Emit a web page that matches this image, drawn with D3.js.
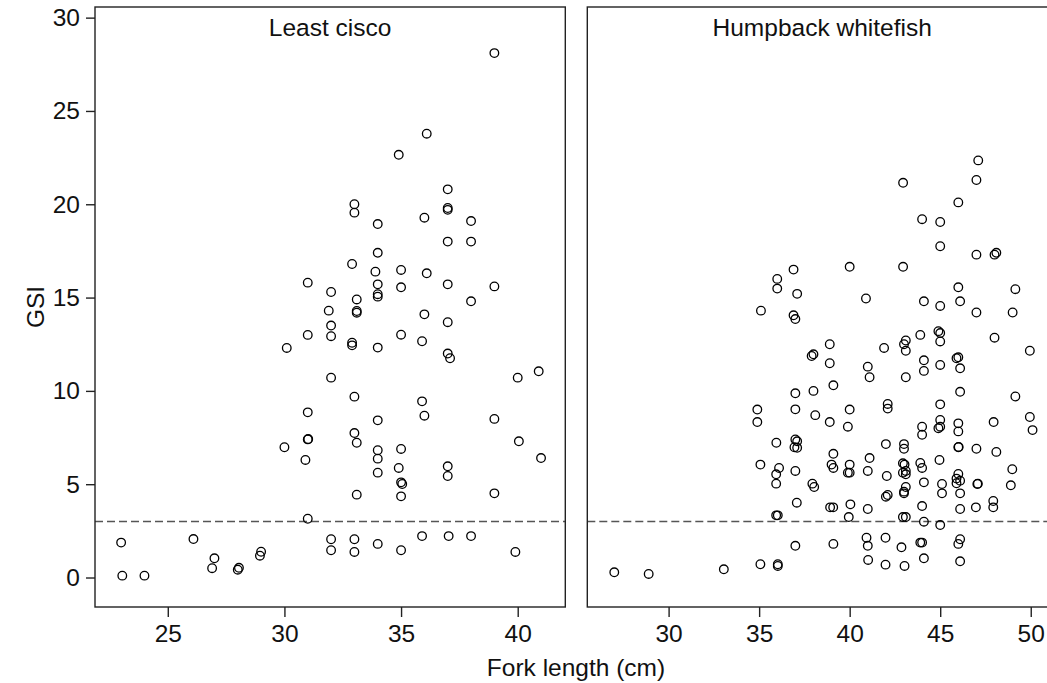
<!DOCTYPE html>
<html>
<head>
<meta charset="utf-8">
<script src="https://cdn.jsdelivr.net/npm/d3@7"></script>
<style>
  html, body { margin: 0; padding: 0; background: #fff; }
  svg { display: block; }
  text { font-family: "Liberation Sans", Arial, Helvetica, sans-serif; fill: #111; }
</style>
</head>
<body>
<svg id="chart" width="1047" height="683"></svg>
<script>
// Fork length (cm) and GSI for each fish
const leastCisco = [
  [23, 1.87], [23.05, 0.1], [24, 0.1], [26.1, 2.06], [27, 1.03], [26.9, 0.5],
  [28, 0.42], [28.05, 0.52], [28.95, 1.17], [29.0, 1.38],
  [30, 6.98], [30.1, 12.3], [31, 15.8], [31, 13.0], [31, 8.85], [31, 7.4], [31.02, 7.42],
  [30.9, 6.3], [31, 3.15],
  [32, 15.3], [31.9, 14.3], [32, 13.5], [32, 12.93], [32, 10.71], [32, 2.05], [32, 1.46],
  [33, 20.0], [33, 19.55], [32.9, 16.8], [33.1, 14.9], [33.1, 14.28], [33.1, 14.19],
  [32.9, 12.58], [32.9, 12.44], [33, 9.69], [33, 7.74], [33.1, 7.22], [33.1, 4.44],
  [33, 2.05], [33, 1.37],
  [34, 18.94], [34, 17.4], [33.9, 16.39], [34, 15.71], [34, 15.18], [34, 15.05],
  [34, 12.32], [34, 8.42], [34, 6.82], [34, 6.37], [34, 5.62], [34, 1.8],
  [34.9, 22.65], [35, 16.48], [35, 15.55], [35, 13.01], [35, 6.89], [34.9, 5.87],
  [35, 5.1], [35.05, 5.01], [35, 4.35], [35, 1.46],
  [36.1, 23.78], [36, 19.28], [36.1, 16.3], [36, 14.1], [35.9, 12.66], [35.9, 9.44],
  [36, 8.67], [35.9, 2.22],
  [37, 20.8], [37, 19.7], [37, 19.8], [37, 18.0], [37, 15.71], [37, 13.68], [37, 12.0],
  [37.1, 11.75], [37, 5.96], [37, 5.44], [37.04, 2.22],
  [38, 19.1], [38, 18.0], [38, 14.8], [38, 2.22],
  [39, 28.1], [39, 15.6], [39, 8.5], [39, 4.51],
  [40, 10.71], [40.05, 7.3], [39.9, 1.37],
  [40.9, 11.05], [41, 6.4]
];

const humpbackWhitefish = [
  [27, 0.28], [28.9, 0.19], [33.05, 0.44],
  [35.1, 14.3], [34.9, 9.0], [34.9, 8.33], [35.07, 6.05], [35.07, 0.71],
  [36, 16.0], [36, 15.48], [35.95, 7.22], [36.1, 5.87], [35.94, 5.53], [35.94, 5.03],
  [35.94, 3.33], [36.03, 3.33], [36.03, 0.71], [36.03, 0.62],
  [36.9, 16.5], [37.1, 15.2], [36.9, 14.05], [37, 13.85], [37, 9.87], [37, 9.01],
  [37, 7.4], [37.1, 7.3], [36.95, 6.98], [37.1, 6.95], [37, 5.71], [37.08, 4.01], [37, 1.7],
  [37.9, 11.87], [38, 11.96], [38, 10.0], [38.1, 8.7], [37.94, 5.03], [38.04, 4.85],
  [38.9, 12.5], [38.9, 11.48], [39.1, 10.3], [38.9, 8.33], [39.1, 6.63], [39, 6.05],
  [39.1, 5.87], [38.92, 3.76], [39.09, 3.76], [39.1, 1.8],
  [40, 16.65], [40, 9.0], [39.9, 8.08], [40, 6.05], [39.9, 5.62], [40, 5.62],
  [40.04, 3.92], [39.95, 3.24],
  [40.9, 14.95], [41, 11.3], [41.1, 10.73], [41.1, 6.4], [41, 5.71], [41, 3.67],
  [40.93, 2.13], [41, 1.7], [41.02, 0.94],
  [41.9, 12.3], [42.1, 9.3], [42.1, 9.05], [42, 7.15], [42.05, 5.44], [42, 4.33],
  [42.1, 4.42], [41.98, 2.13], [41.98, 0.69],
  [42.95, 21.15], [42.95, 16.65], [43, 12.5], [43.1, 12.7], [43.1, 12.15], [43.1, 10.73],
  [43, 7.15], [43, 6.9], [42.94, 6.12], [43.03, 6.05], [42.94, 5.62], [43.1, 5.71],
  [43.1, 5.53], [43.1, 4.85], [43, 4.6], [43, 4.51], [42.94, 3.24], [43.1, 3.24],
  [42.86, 1.62], [43.03, 0.62],
  [44, 19.2], [44.1, 14.8], [43.9, 13.0], [44.1, 11.64], [44.1, 11.07], [44, 8.08],
  [44, 7.65], [43.9, 6.14], [44, 5.87], [44.1, 5.1], [44, 3.83], [44.1, 2.99],
  [43.9, 1.87], [44, 1.87], [44.1, 1.03],
  [45, 19.05], [45, 17.75], [45, 14.55], [44.9, 13.2], [45, 13.1], [45, 12.65],
  [45, 11.39], [45, 9.28], [45, 8.44], [44.9, 8.0], [45, 8.08], [44.96, 6.3],
  [45.1, 5.01], [45.1, 4.51], [45, 2.81],
  [46, 20.1], [46, 15.55], [46.1, 14.8], [46, 11.8], [45.9, 11.75], [46.1, 11.21],
  [46.1, 9.95], [46, 8.26], [46, 7.83], [46, 6.98], [46.02, 7.0], [46, 5.55], [45.9, 5.3],
  [46.1, 5.19], [45.9, 5.05], [46.1, 4.51], [46.1, 3.67], [46.1, 2.05], [46, 1.8], [46.1, 0.87],
  [47.1, 22.35], [47, 21.3], [47, 17.3], [47, 14.2], [47, 6.9], [47.05, 5.01],
  [47.08, 5.03], [46.97, 3.76],
  [48, 17.3], [48.1, 17.4], [48, 12.85], [47.95, 8.33], [48.1, 6.73], [47.93, 4.1], [47.93, 3.76],
  [49.15, 15.45], [49, 14.2], [49.15, 9.7], [48.98, 5.8], [48.9, 4.94],
  [49.95, 12.15], [49.95, 8.6], [50.1, 7.9]
];

const panelTitles = ["Least cisco", "Humpback whitefish"];
const xTicksLeft = [25, 30, 35, 40];
const xTicksRight = [30, 35, 40, 45, 50];
const yTicks = [0, 5, 10, 15, 20, 25, 30];
const gsiThreshold = 3;
const xLabel = "Fork length (cm)";
const yLabel = "GSI";

const svg = d3.select("#chart");
const FONT = 24.5;
const plotTop = 7, plotBottom = 607;

const y = d3.scaleLinear().domain([-1.58, 30.57]).range([plotBottom, plotTop]);

const panels = [
  { title: panelTitles[0], data: leastCisco, ticks: xTicksLeft,
    x: d3.scaleLinear().domain([21.88, 42.04]).range([95, 565.3]), yAxis: true },
  { title: panelTitles[1], data: humpbackWhitefish, ticks: xTicksRight,
    x: d3.scaleLinear().domain([25.51, 51.45]).range([587.3, 1057]), yAxis: false }
];

panels.forEach(p => {
  const [x0, x1] = p.x.range();
  const g = svg.append("g");

  // threshold line
  g.append("line")
    .attr("x1", x0).attr("x2", x1)
    .attr("y1", y(gsiThreshold)).attr("y2", y(gsiThreshold))
    .attr("stroke", "#555").attr("stroke-width", 1.5)
    .attr("stroke-dasharray", "8,4");

  // points
  g.selectAll("circle").data(p.data).enter().append("circle")
    .attr("cx", d => p.x(d[0]))
    .attr("cy", d => y(d[1]))
    .attr("r", 4.3)
    .attr("fill", "none")
    .attr("stroke", "#000")
    .attr("stroke-width", 1.3);

  // frame
  g.append("rect")
    .attr("x", x0).attr("y", plotTop)
    .attr("width", x1 - x0).attr("height", plotBottom - plotTop)
    .attr("fill", "none").attr("stroke", "#222").attr("stroke-width", 1.4);

  // x axis
  const xAxis = d3.axisBottom(p.x).tickValues(p.ticks).tickSize(10).tickPadding(8);
  const ax = g.append("g").attr("transform", `translate(0,${plotBottom})`).call(xAxis);
  ax.select(".domain").remove();
  ax.selectAll("line").attr("stroke", "#222").attr("stroke-width", 1.4);
  ax.selectAll("text").style("font-size", FONT + "px").attr("fill", "#111");

  if (p.yAxis) {
    const yAxis = d3.axisLeft(y).tickValues(yTicks).tickSize(9).tickPadding(6);
    const ay = g.append("g").attr("transform", `translate(${x0},0)`).call(yAxis);
    ay.select(".domain").remove();
    ay.selectAll("line").attr("stroke", "#222").attr("stroke-width", 1.4);
    ay.selectAll("text").style("font-size", FONT + "px").attr("fill", "#111");
  }

  // panel title
  g.append("text")
    .attr("x", (x0 + x1) / 2).attr("y", 36)
    .attr("text-anchor", "middle")
    .style("font-size", FONT + "px")
    .text(p.title);
});

// axis titles
svg.append("text")
  .attr("x", (95 + 1057) / 2).attr("y", 676)
  .attr("text-anchor", "middle")
  .style("font-size", FONT + "px")
  .text(xLabel);

svg.append("text")
  .attr("transform", `translate(44,${(plotTop + plotBottom) / 2}) rotate(-90)`)
  .attr("text-anchor", "middle")
  .style("font-size", FONT + "px")
  .text(yLabel);
</script>
</body>
</html>
